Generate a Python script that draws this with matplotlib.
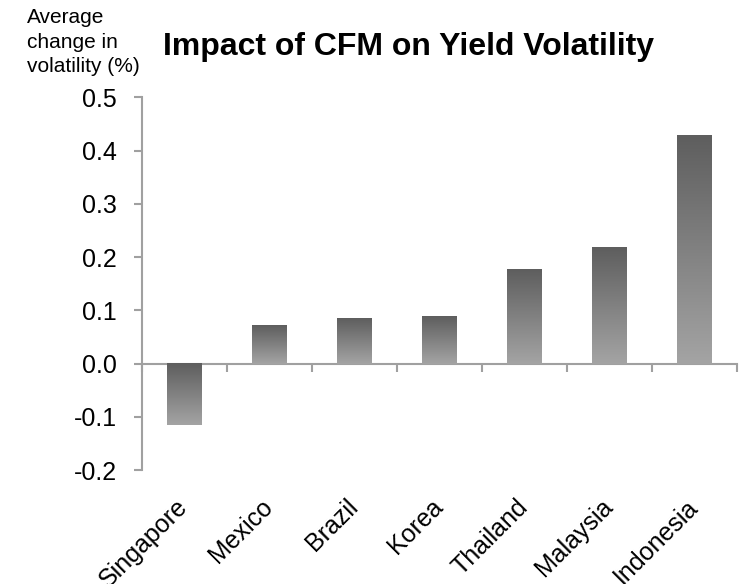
import matplotlib
matplotlib.use("Agg")
import matplotlib.pyplot as plt
import numpy as np
from matplotlib.colors import LinearSegmentedColormap

categories = ["Singapore", "Mexico", "Brazil", "Korea", "Thailand", "Malaysia", "Indonesia"]
values = [-0.116, 0.072, 0.085, 0.089, 0.177, 0.219, 0.430]
yticks = [-0.2, -0.1, 0.0, 0.1, 0.2, 0.3, 0.4, 0.5]

plt.rcParams['font.family'] = ['Liberation Sans', 'DejaVu Sans']

fig = plt.figure(figsize=(7.44, 5.84), dpi=100)
ax = fig.add_axes([141.7 / 744, 1 - 470 / 584, (737 - 141.7) / 744, (470 - 97.3) / 584])

x = np.arange(len(categories))
bars = ax.bar(x, values, width=0.41, color='none', edgecolor='none')

cmap = LinearSegmentedColormap.from_list('g', ['#a4a4a4', '#5e5e5e'])
grad = np.linspace(0, 1, 256).reshape(-1, 1)
for b in bars:
    x0, y0 = b.get_x(), b.get_y()
    w, h = b.get_width(), b.get_height()
    lo, hi = min(y0, y0 + h), max(y0, y0 + h)
    ax.imshow(grad, cmap=cmap, origin='lower', aspect='auto',
              extent=[x0, x0 + w, lo, hi], interpolation='bilinear', zorder=2)

ax.set_xlim(-0.5, len(categories) - 0.5)
ax.set_ylim(-0.2, 0.5)
ax.set_yticks(yticks)
ax.set_yticklabels([f"{t:.1f}" for t in yticks], fontsize=18)

gray = '#a0a0a0'
for s in ['top', 'right', 'bottom']:
    ax.spines[s].set_visible(False)
ax.spines['left'].set_color(gray)
ax.spines['left'].set_linewidth(1.5)
ax.tick_params(axis='y', direction='out', length=6, width=1.5, color=gray, pad=12)

ax.set_xticks(x)
ax.set_xticklabels(categories, fontsize=18, rotation=45, ha='right', va='center',
                   rotation_mode='anchor')
ax.tick_params(axis='x', length=0, pad=24)

sec = ax.secondary_xaxis(0.2 / 0.7)
sec.set_xticks(np.arange(len(categories) + 1) - 0.5)
sec.set_xticklabels([])
sec.spines['bottom'].set_color(gray)
sec.spines['bottom'].set_linewidth(1.5)
sec.tick_params(direction='out', length=6, width=1.5, color=gray)

fig.text(409 / 744, 1 - 55 / 584, "Impact of CFM on Yield Volatility",
         fontsize=23, fontweight='bold', ha='center', va='baseline')
fig.text(27 / 744, 1 - 8 / 584, "Average\nchange in\nvolatility (%)",
         fontsize=15, ha='left', va='top', linespacing=1.38)

fig.savefig("out.png", dpi=100)
